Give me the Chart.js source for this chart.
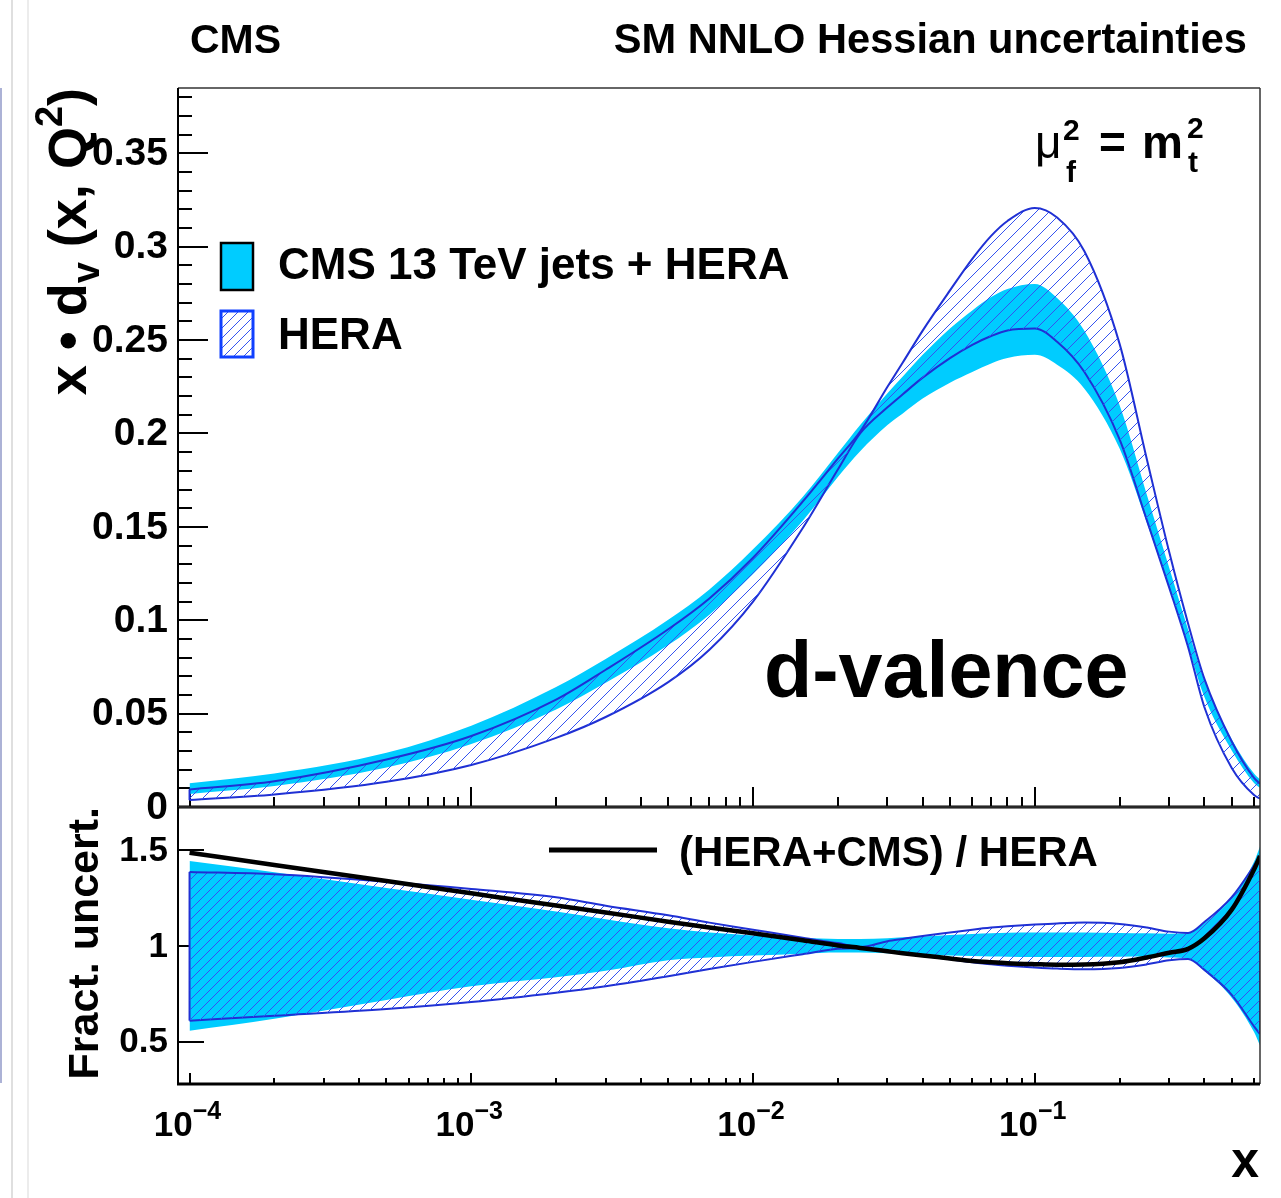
<!DOCTYPE html>
<html>
<head>
<meta charset="utf-8">
<script src="https://cdn.jsdelivr.net/npm/chart.js@4.4.1/dist/chart.umd.min.js"></script>
<style>
  html, body { margin: 0; padding: 0; background: #fff; }
  #wrap { position: relative; width: 1281px; height: 1198px; overflow: hidden; }
  #wrap canvas { position: absolute; left: 0; top: 0; }
</style>
</head>
<body>
<div id="wrap">
  <canvas id="topPad" width="1281" height="1198"></canvas>
  <canvas id="bottomPad" width="1281" height="1198"></canvas>
</div>
<script>
// x grid shared by both pads
const xValues = [1e-4, 2e-4, 5e-4, 1e-3, 2e-3, 3e-3, 5e-3, 7e-3, 1e-2, 1.5e-2,
                 2e-2, 2.4e-2, 3e-2, 3.4e-2, 4e-2, 5e-2, 6e-2, 7e-2, 8e-2, 0.1,
                 0.12, 0.15, 0.2, 0.25, 0.3, 0.35, 0.4, 0.5, 0.6, 0.63];

// upper pad: x * d_v band edges
const heraUpper = [0.0094, 0.0138, 0.0254, 0.0380, 0.0575, 0.0735, 0.0952, 0.1117, 0.1335, 0.1635,
                   0.1865, 0.2010, 0.2250, 0.2380, 0.2551, 0.2766, 0.2935, 0.3058, 0.3138, 0.3208,
                   0.3157, 0.2976, 0.2480, 0.1861, 0.1365, 0.0983, 0.0686, 0.0351, 0.0156, 0.0125];
const heraLower = [0.0037, 0.0067, 0.0135, 0.0225, 0.0370, 0.0482, 0.0669, 0.0842, 0.1100, 0.1493,
                   0.1807, 0.2000, 0.2140, 0.2210, 0.2299, 0.2404, 0.2475, 0.2522, 0.2552, 0.2562,
                   0.2491, 0.2329, 0.1968, 0.1535, 0.1175, 0.0857, 0.0534, 0.0209, 0.0064, 0.0045];
const cmsUpper  = [0.0127, 0.0179, 0.0290, 0.0435, 0.0642, 0.0792, 0.1002, 0.1165, 0.1380, 0.1660,
                   0.1895, 0.2045, 0.2215, 0.2305, 0.2421, 0.2562, 0.2659, 0.2731, 0.2774, 0.2801,
                   0.2726, 0.2550, 0.2151, 0.1671, 0.1281, 0.0951, 0.0679, 0.0363, 0.0179, 0.0147];
const cmsLower  = [0.0070, 0.0112, 0.0211, 0.0337, 0.0522, 0.0665, 0.0867, 0.1030, 0.1248, 0.1532,
                   0.1767, 0.1905, 0.2045, 0.2107, 0.2187, 0.2272, 0.2329, 0.2375, 0.2404, 0.2421,
                   0.2368, 0.2240, 0.1919, 0.1521, 0.1171, 0.0861, 0.0589, 0.0303, 0.0129, 0.0103];

// lower pad: fractional uncertainties and ratio
const ratioCentral = [1.487, 1.423, 1.339, 1.275, 1.211, 1.175, 1.127, 1.097, 1.066, 1.030,
                      1.003, 0.990, 0.972, 0.962, 0.950, 0.935, 0.922, 0.915, 0.910, 0.905,
                      0.902, 0.903, 0.915, 0.940, 0.965, 0.985, 1.040, 1.190, 1.400, 1.470];
const heraFracUp = [1.387, 1.375, 1.336, 1.298, 1.254, 1.210, 1.160, 1.122, 1.085, 1.043,
                    1.015, 0.995, 1.025, 1.037, 1.052, 1.070, 1.085, 1.096, 1.103, 1.112,
                    1.118, 1.122, 1.115, 1.096, 1.075, 1.068, 1.125, 1.255, 1.420, 1.470];
const heraFracLo = [0.610, 0.636, 0.671, 0.707, 0.756, 0.790, 0.842, 0.880, 0.917, 0.957,
                    0.985, 0.988, 0.975, 0.963, 0.948, 0.930, 0.915, 0.904, 0.897, 0.888,
                    0.882, 0.878, 0.885, 0.904, 0.925, 0.932, 0.875, 0.745, 0.580, 0.540];
const cmsFracUp  = [1.444, 1.385, 1.303, 1.242, 1.180, 1.140, 1.092, 1.070, 1.055, 1.042,
                    1.037, 1.036, 1.040, 1.045, 1.050, 1.058, 1.063, 1.067, 1.069, 1.070,
                    1.070, 1.070, 1.068, 1.066, 1.064, 1.066, 1.120, 1.250, 1.440, 1.520];
const cmsFracLo  = [0.557, 0.620, 0.718, 0.789, 0.836, 0.870, 0.925, 0.940, 0.950, 0.960,
                    0.966, 0.966, 0.962, 0.958, 0.955, 0.950, 0.947, 0.945, 0.944, 0.943,
                    0.943, 0.943, 0.944, 0.945, 0.940, 0.935, 0.870, 0.730, 0.550, 0.480];

// axes
const xMin = 9.1e-5;
const xMax = 0.63;
const xDecades = [-4, -3, -2, -1];
const topYTicks = [0, 0.05, 0.1, 0.15, 0.2, 0.25, 0.3, 0.35];
const topYLabels = ["0", "0.05", "0.1", "0.15", "0.2", "0.25", "0.3", "0.35"];
const bottomYTicks = [0.5, 1, 1.5];
const bottomYLabels = ["0.5", "1", "1.5"];

const CYAN = "#00ccff";
const BLUE = "#1f30d4";
const FONT = "'Liberation Sans', Arial, Helvetica, sans-serif";


function hatchPattern(step, color) {
    const c = document.createElement("canvas");
    c.width = step;
    c.height = step;
    const g = c.getContext("2d");
    g.strokeStyle = color;
    g.lineWidth = 1;
    g.beginPath();
    g.moveTo(0, step);
    g.lineTo(step, 0);
    g.moveTo(-1, 1);
    g.lineTo(1, -1);
    g.moveTo(step - 1, step + 1);
    g.lineTo(step + 1, step - 1);
    g.stroke();
    return g.createPattern(c, "repeat");
}

const hatchTop = hatchPattern(13, "#3553f0");
const hatchBottom = hatchPattern(10, "#3553f0");

function pts(ys) {
    return xValues.map((x, i) => ({ x: x, y: ys[i] }));
}

function edge(i, lo, hi) {
    return [{ x: xValues[i], y: lo[i] }, { x: xValues[i], y: hi[i] }];
}

function band(data, fill, color, order) {
    return {
        data: data,
        fill: fill,
        backgroundColor: color,
        borderColor: "rgba(0,0,0,0)",
        borderWidth: 1,
        pointRadius: 0,
        cubicInterpolationMode: "monotone",
        order: order
    };
}

function heraLine(data, fill, order, pattern) {
    return {
        data: data,
        fill: fill,
        backgroundColor: pattern,
        borderColor: BLUE,
        borderWidth: 2,
        pointRadius: 0,
        cubicInterpolationMode: "monotone",
        order: order
    };
}

function fontOf(p) {
    return (p.bold === false ? "normal " : "bold ") + p.size + "px " + FONT;
}

// draws a run of text pieces with sub/superscript offsets
function drawRich(ctx, parts, x0, y0, align) {
    let w = 0;
    const xs = [];
    for (const p of parts) {
        ctx.font = fontOf(p);
        xs.push(w);
        w += ctx.measureText(p.t).width;
    }
    let sx = x0;
    if (align === "right") sx = x0 - w;
    if (align === "center") sx = x0 - w / 2;
    ctx.textAlign = "left";
    ctx.textBaseline = "alphabetic";
    parts.forEach((p, i) => {
        ctx.font = fontOf(p);
        ctx.fillText(p.t, sx + xs[i], y0 + (p.dy || 0));
    });
}

function line(ctx, x1, y1, x2, y2) {
    ctx.beginPath();
    ctx.moveTo(x1, y1);
    ctx.lineTo(x2, y2);
    ctx.stroke();
}

function drawXTicks(chart, major, minor) {
    const { ctx, chartArea: a, scales: { x } } = chart;
    ctx.save();
    ctx.strokeStyle = "#000";
    ctx.lineWidth = 2;
    for (const d of xDecades.concat([xDecades[0] - 1])) {
        for (let k = 1; k <= 9; k++) {
            const v = k * Math.pow(10, d);
            if (v < x.min || v > x.max) continue;
            const px = Math.round(x.getPixelForValue(v));
            line(ctx, px, a.bottom, px, a.bottom - (k === 1 ? major : minor));
        }
    }
    ctx.restore();
}

function drawFrame(chart) {
    const { ctx, chartArea: a } = chart;
    ctx.save();
    ctx.strokeStyle = "#333";
    ctx.lineWidth = 1.5;
    line(ctx, a.left, a.top, a.right, a.top);
    line(ctx, a.right, a.top, a.right, a.bottom);
    ctx.strokeStyle = "#000";
    ctx.lineWidth = 2;
    line(ctx, a.left, a.top, a.left, a.bottom);
    ctx.lineWidth = 3;
    line(ctx, a.left - 1, a.bottom, a.right, a.bottom);
    ctx.restore();
}

const topDecor = {
    id: "topDecor",
    beforeDatasetsDraw(chart) {
        const { ctx, chartArea: a, scales: { y } } = chart;
        drawXTicks(chart, 20, 10);
        ctx.save();
        ctx.strokeStyle = "#000";
        ctx.lineWidth = 2;
        for (let i = 0; i <= 38; i++) {
            const py = Math.round(y.getPixelForValue(i / 100));
            line(ctx, a.left, py, a.left + (i % 5 === 0 ? 30 : 14), py);
        }
        ctx.restore();
    },
    afterDraw(chart) {
        const { ctx, scales: { y } } = chart;
        drawFrame(chart);
        ctx.save();

        // page edge lines
        ctx.lineWidth = 1.5;
        ctx.strokeStyle = "#d4d4d4";
        line(ctx, 12, 0, 12, 1198);
        ctx.strokeStyle = "#e6e6e6";
        line(ctx, 28, 0, 28, 1198);
        ctx.strokeStyle = "#9098c8";
        line(ctx, 1, 88, 1, 1083);

        ctx.fillStyle = "#000";
        ctx.font = "bold 41px " + FONT;
        ctx.textBaseline = "alphabetic";
        ctx.textAlign = "left";
        ctx.fillText("CMS", 190, 53);
        ctx.font = "bold 41.6px " + FONT;
        ctx.textAlign = "right";
        ctx.fillText("SM NNLO Hessian uncertainties", 1247, 53);

        // y tick labels
        ctx.font = "bold 39px " + FONT;
        ctx.textAlign = "right";
        ctx.textBaseline = "middle";
        topYTicks.forEach((v, i) => {
            ctx.fillText(topYLabels[i], 168, y.getPixelForValue(v) + 1);
        });

        // y title
        ctx.save();
        ctx.translate(86, 88);
        ctx.rotate(-Math.PI / 2);
        drawRich(ctx, [
            { t: "x ", size: 54 },
            { t: "\u2022", size: 54 },
            { t: " d", size: 54 },
            { t: "v", size: 38, dy: 13 },
            { t: " (x, Q", size: 54 },
            { t: "2", size: 38, dy: -24 },
            { t: ")", size: 54 }
        ], 0, 0, "right");
        ctx.restore();

        // legend
        ctx.fillStyle = CYAN;
        ctx.fillRect(221, 243, 32, 47);
        ctx.strokeStyle = "#000";
        ctx.lineWidth = 2.5;
        ctx.strokeRect(221, 243, 32, 47);
        ctx.fillStyle = hatchBottom;
        ctx.fillRect(221, 311, 32, 46);
        ctx.strokeStyle = "#1040ff";
        ctx.lineWidth = 3;
        ctx.strokeRect(221, 311, 32, 46);
        ctx.fillStyle = "#000";
        ctx.font = "bold 44px " + FONT;
        ctx.textAlign = "left";
        ctx.textBaseline = "alphabetic";
        ctx.fillText("CMS 13 TeV jets + HERA", 278, 279);
        ctx.fillText("HERA", 278, 349);

        // scale label
        ctx.font = "normal 46px " + FONT;
        ctx.fillText("\u03bc", 1035, 158);
        ctx.font = "bold 30px " + FONT;
        ctx.fillText("2", 1063, 140);
        ctx.fillText("f", 1066, 182);
        ctx.font = "bold 46px " + FONT;
        ctx.fillText("=", 1099, 158);
        ctx.fillText("m", 1142, 158);
        ctx.font = "bold 30px " + FONT;
        ctx.fillText("2", 1187, 138);
        ctx.fillText("t", 1188, 172);

        ctx.font = "bold 79px " + FONT;
        ctx.fillText("d-valence", 764, 697);
        ctx.restore();
    }
};

const bottomDecor = {
    id: "bottomDecor",
    beforeDatasetsDraw(chart) {
        const { ctx, chartArea: a, scales: { y } } = chart;
        drawXTicks(chart, 11, 6);
        ctx.save();
        ctx.strokeStyle = "#000";
        ctx.lineWidth = 2;
        bottomYTicks.forEach(v => {
            const py = Math.round(y.getPixelForValue(v));
            line(ctx, a.left, py, a.left + 26, py);
        });
        ctx.restore();
    },
    afterDraw(chart) {
        const { ctx, scales: { x, y } } = chart;
        drawFrame(chart);
        ctx.save();
        ctx.fillStyle = "#000";

        ctx.font = "bold 35px " + FONT;
        ctx.textAlign = "right";
        ctx.textBaseline = "middle";
        bottomYTicks.forEach((v, i) => {
            ctx.fillText(bottomYLabels[i], 168, y.getPixelForValue(v) + 1);
        });

        xDecades.forEach(d => {
            const px = x.getPixelForValue(Math.pow(10, d));
            drawRich(ctx, [
                { t: "10", size: 35 },
                { t: "\u2212" + Math.abs(d), size: 25, dy: -17 }
            ], px - 2, 1136, "center");
        });

        ctx.font = "bold 50px " + FONT;
        ctx.textAlign = "right";
        ctx.textBaseline = "alphabetic";
        ctx.fillText("x", 1259, 1177);

        ctx.save();
        ctx.translate(98, 807);
        ctx.rotate(-Math.PI / 2);
        drawRich(ctx, [{ t: "Fract. uncert.", size: 43 }], 0, 0, "right");
        ctx.restore();

        // legend
        ctx.strokeStyle = "#000";
        ctx.lineWidth = 5;
        line(ctx, 549, 850, 657, 850);
        ctx.font = "bold 42px " + FONT;
        ctx.textAlign = "left";
        ctx.fillText("(HERA+CMS) / HERA", 679, 866);
        ctx.restore();
    }
};

function xScale() {
    return { type: "logarithmic", min: xMin, max: xMax, display: false };
}

new Chart(document.getElementById("topPad"), {
    type: "line",
    data: {
        datasets: [
            heraLine(pts(heraUpper), "+1", 1, hatchTop),
            heraLine(pts(heraLower), false, 1, hatchTop),
            band(pts(cmsUpper), "+1", CYAN, 2),
            band(pts(cmsLower), false, CYAN, 2),
            heraLine(edge(0, heraLower, heraUpper), false, 0, hatchTop)
        ]
    },
    options: {
        responsive: false,
        animation: false,
        devicePixelRatio: 1,
        layout: { padding: { left: 178, right: 21, top: 88, bottom: 391 } },
        plugins: { legend: { display: false }, tooltip: { enabled: false } },
        scales: {
            x: xScale(),
            y: { type: "linear", min: 0, max: 0.385, display: false }
        }
    },
    plugins: [topDecor]
});

new Chart(document.getElementById("bottomPad"), {
    type: "line",
    data: {
        datasets: [
            {
                data: pts(ratioCentral),
                borderColor: "#000",
                borderWidth: 4.5,
                pointRadius: 0,
                fill: false,
                cubicInterpolationMode: "monotone",
                order: 0
            },
            heraLine(pts(heraFracUp), "+1", 1, hatchBottom),
            heraLine(pts(heraFracLo), false, 1, hatchBottom),
            heraLine(edge(0, heraFracLo, heraFracUp), false, 1, hatchBottom),
            heraLine(edge(xValues.length - 1, heraFracLo, heraFracUp), false, 1, hatchBottom),
            band(pts(cmsFracUp), "+1", CYAN, 2),
            band(pts(cmsFracLo), false, CYAN, 2)
        ]
    },
    options: {
        responsive: false,
        animation: false,
        devicePixelRatio: 1,
        layout: { padding: { left: 178, right: 21, top: 807, bottom: 114 } },
        plugins: { legend: { display: false }, tooltip: { enabled: false } },
        scales: {
            x: xScale(),
            y: { type: "linear", min: 0.279, max: 1.726, display: false }
        }
    },
    plugins: [bottomDecor]
});
</script>
</body>
</html>
